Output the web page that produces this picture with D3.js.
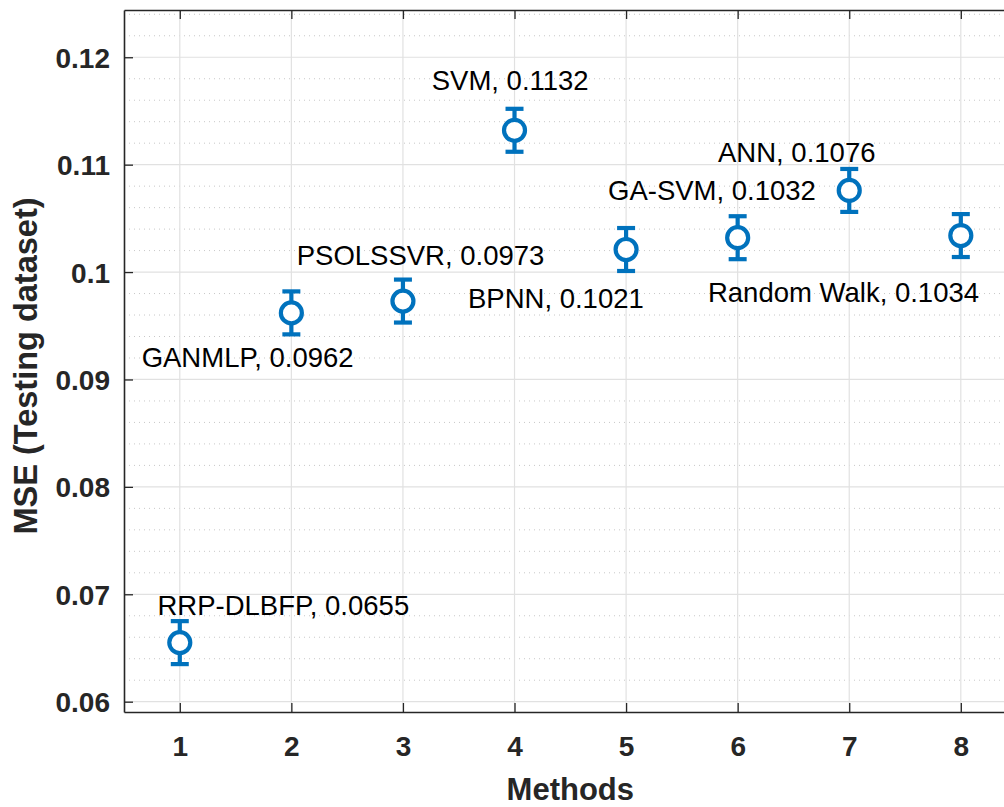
<!DOCTYPE html>
<html lang="en">
  <head>
    <meta charset="utf-8">
    <title>MSE by method</title>
    <style>
    body {margin: 0; background: #fff;}
    svg {display: block; font-family: "Liberation Sans", Arial, sans-serif;}
    </style>
  </head>
  <body>
    <div id="chart"></div>
    <script src="https://d3js.org/d3.v7.min.js"></script>
    <script>
      // values
      var methods = [1, 2, 3, 4, 5, 6, 7, 8];
      var names = ["RRP-DLBFP", "GANMLP", "PSOLSSVR", "SVM", "BPNN", "GA-SVM", "ANN", "Random Walk"];
      var mse = [0.0655, 0.0962, 0.0973, 0.1132, 0.1021, 0.1032, 0.1076, 0.1034];
      var errs = [0.002, 0.002, 0.002, 0.002, 0.002, 0.002, 0.002, 0.002];
      // where each text label sits, in data units (left edge, baseline)
      var labelX = [0.80, 0.658, 2.048, 3.258, 3.583, 4.838, 5.824, 5.734];
      var labelY = [0.06807, 0.09114, 0.10066, 0.11696, 0.09666, 0.10667, 0.11028, 0.09724];
      var yTicks = [0.06, 0.07, 0.08, 0.09, 0.1, 0.11, 0.12];
      var yTickLabels = ["0.06", "0.07", "0.08", "0.09", "0.1", "0.11", "0.12"];
      var yMinor = [0.062, 0.064, 0.066, 0.068, 0.072, 0.074, 0.076, 0.078, 0.082, 0.084, 0.086, 0.088,
                    0.092, 0.094, 0.096, 0.098, 0.102, 0.104, 0.106, 0.108, 0.112, 0.114, 0.116, 0.118,
                    0.122, 0.124];

      var W = 1004, H = 807;
      var margin = {left: 124, top: 10, right: 1016.6, bottom: 712};
      var ink = "#262626", blue = "#0072BD";

      var svg = d3.select("#chart").append("svg")
          .attr("width", W)
          .attr("height", H);

      var x = d3.scaleLinear().domain([0.5, 8.5]).range([margin.left, margin.right]);
      var y = d3.scaleLinear().domain([0.05904, 0.1244]).range([margin.bottom, margin.top]);

      // minor grid (dotted, horizontal only)
      svg.append("g").selectAll("line")
        .data(yMinor)
        .enter().append("line")
          .attr("x1", margin.left).attr("x2", margin.right)
          .attr("y1", function(d) { return y(d); })
          .attr("y2", function(d) { return y(d); })
          .attr("stroke", "#c8c8c8")
          .attr("stroke-width", 1)
          .attr("stroke-dasharray", "1,4");

      // major grid
      svg.append("g").selectAll("line")
        .data(yTicks)
        .enter().append("line")
          .attr("x1", margin.left).attr("x2", margin.right)
          .attr("y1", function(d) { return y(d); })
          .attr("y2", function(d) { return y(d); })
          .attr("stroke", "#e1e1e1")
          .attr("stroke-width", 1.2);

      svg.append("g").selectAll("line")
        .data(methods)
        .enter().append("line")
          .attr("x1", function(d) { return x(d); })
          .attr("x2", function(d) { return x(d); })
          .attr("y1", margin.top).attr("y2", margin.bottom)
          .attr("stroke", "#e1e1e1")
          .attr("stroke-width", 1.2);

      // axes (MATLAB style, ticks pointing inward)
      var xAxis = svg.append("g")
        .attr("transform", "translate(0," + margin.bottom + ")")
        .call(d3.axisBottom(x).tickValues(methods).tickFormat(d3.format("d"))
          .tickSizeInner(-9).tickSizeOuter(0).tickPadding(24));

      var xAxisTop = svg.append("g")
        .attr("transform", "translate(0," + margin.top + ")")
        .call(d3.axisTop(x).tickValues(methods).tickFormat("")
          .tickSizeInner(-9).tickSizeOuter(0));

      var yAxis = svg.append("g")
        .attr("transform", "translate(" + margin.left + ",0)")
        .call(d3.axisLeft(y).tickValues(yTicks)
          .tickFormat(function(d, i) { return yTickLabels[i]; })
          .tickSizeInner(-9).tickSizeOuter(0).tickPadding(14));

      [xAxis, xAxisTop, yAxis].forEach(function(g) {
        g.select(".domain").attr("stroke", ink).attr("stroke-width", 1.6);
        g.selectAll(".tick line").attr("stroke", ink).attr("stroke-width", 1.3);
        g.selectAll(".tick text")
          .attr("fill", ink)
          .style("font-size", "28px")
          .style("font-weight", "bold")
          .style("font-family", "'Liberation Sans', Arial, sans-serif");
      });
      yAxis.selectAll(".tick text").attr("dy", "0.36em");

      // error bars
      var cap = 9;
      var bars = svg.append("g").selectAll("g")
        .data(methods)
        .enter().append("g")
          .attr("stroke", blue)
          .attr("stroke-width", 4.2)
          .attr("fill", "none");

      bars.append("line")
        .attr("x1", function(d) { return x(d); })
        .attr("x2", function(d) { return x(d); })
        .attr("y1", function(d, i) { return y(mse[i] - errs[i]); })
        .attr("y2", function(d, i) { return y(mse[i] + errs[i]); });

      bars.append("line")
        .attr("x1", function(d) { return x(d) - cap; })
        .attr("x2", function(d) { return x(d) + cap; })
        .attr("y1", function(d, i) { return y(mse[i] + errs[i]); })
        .attr("y2", function(d, i) { return y(mse[i] + errs[i]); });

      bars.append("line")
        .attr("x1", function(d) { return x(d) - cap; })
        .attr("x2", function(d) { return x(d) + cap; })
        .attr("y1", function(d, i) { return y(mse[i] - errs[i]); })
        .attr("y2", function(d, i) { return y(mse[i] - errs[i]); });

      bars.append("circle")
        .attr("cx", function(d) { return x(d); })
        .attr("cy", function(d, i) { return y(mse[i]); })
        .attr("r", 10.5)
        .attr("fill", "#fff");

      // annotations
      svg.append("g").selectAll("text")
        .data(methods)
        .enter().append("text")
          .attr("x", function(d, i) { return x(labelX[i]); })
          .attr("y", function(d, i) { return y(labelY[i]); })
          .attr("fill", "#000")
          .style("font-size", "27.5px")
          .text(function(d, i) { return names[i] + ", " + mse[i]; });

      // axis titles
      svg.append("text")
        .attr("x", (margin.left + margin.right) / 2)
        .attr("y", 800)
        .attr("text-anchor", "middle")
        .attr("fill", ink)
        .style("font-size", "31px")
        .style("font-weight", "bold")
        .text("Methods");

      svg.append("text")
        .attr("transform", "translate(37,366) rotate(-90)")
        .attr("text-anchor", "middle")
        .attr("fill", ink)
        .style("font-size", "32.5px")
        .style("font-weight", "bold")
        .text("MSE (Testing dataset)");
    </script>
  </body>
</html>
